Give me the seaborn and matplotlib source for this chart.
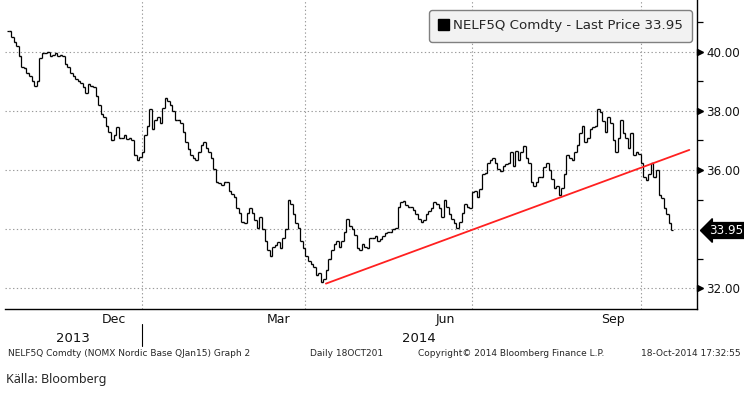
import numpy as np
import pandas as pd
import matplotlib
matplotlib.use('Agg')
import matplotlib.pyplot as plt
import matplotlib.transforms as mtransforms
from matplotlib.patches import Patch
import seaborn as sns

# --- daily last price NELF5Q Comdty ---
close = [
    40.7, 40.5, 40.35, 40.2, 39.85, 39.5, 39.45, 39.3, 39.2, 39.0, 38.85, 39.0, 39.8, 39.95, 39.95,
    40.0, 39.85, 39.9, 39.95, 39.85, 39.9, 39.85, 39.6, 39.5, 39.3, 39.2, 39.1, 39.0, 38.95,
    38.8, 38.6, 38.9, 38.85, 38.8, 38.5, 38.2, 37.9, 37.8, 37.5, 37.3, 37.0, 37.2, 37.45, 37.1,
    37.1, 37.2, 37.05, 37.1, 37.0, 36.5, 36.35, 36.45, 36.6, 37.2, 37.5, 38.05, 37.4, 37.7, 37.8,
    37.6, 38.1, 38.45, 38.35, 38.2, 38.0, 37.7, 37.7, 37.6, 37.3, 36.95, 36.7, 36.5, 36.4, 36.35,
    36.6, 36.85, 36.95, 36.75, 36.6, 36.4, 36.05, 35.6, 35.55, 35.5, 35.6, 35.6, 35.3, 35.2, 35.1,
    34.7, 34.55, 34.25, 34.2, 34.55, 34.7, 34.55, 34.3, 34.05, 34.4, 34.0, 33.6, 33.3, 33.1, 33.4,
    33.45, 33.55, 33.35, 33.7, 34.0, 35.0, 34.85, 34.5, 34.2, 34.05, 33.6, 33.35, 33.1, 32.9, 32.8,
    32.7, 32.45, 32.5, 32.2, 32.3, 32.6, 33.0, 33.3, 33.5, 33.6, 33.4, 33.6, 33.9, 34.35, 34.1,
    34.0, 33.8, 33.35, 33.3, 33.5, 33.4, 33.35, 33.7, 33.7, 33.75, 33.6, 33.65, 33.75, 33.85, 33.9,
    33.9, 34.0, 34.05,
    34.75, 34.9, 34.95, 34.8, 34.75, 34.75, 34.65, 34.5, 34.35, 34.25, 34.3, 34.5, 34.6, 34.7, 34.9,
    34.85, 34.7, 34.4, 35.0, 34.75, 34.5, 34.35, 34.2, 34.05, 34.25, 34.55, 34.85, 34.75, 34.7, 35.25,
    35.3, 35.1, 35.35, 35.85, 35.9, 36.25, 36.35, 36.4, 36.25, 36.05, 35.95, 36.15, 36.2, 36.25, 36.6,
    36.15, 36.65, 36.35, 36.6, 36.8, 36.4, 36.25, 35.6, 35.45, 35.6, 35.75, 35.75, 36.1, 36.25, 36.0,
    35.7, 35.4, 35.45, 35.15, 35.4, 35.85, 36.5, 36.4, 36.35, 36.6, 36.85, 37.25, 37.5, 36.95, 37.1,
    37.4, 37.45, 37.5, 38.05, 37.95, 37.65, 37.3, 37.8, 37.6, 37.0, 36.6, 37.1, 37.7, 37.25, 37.1,
    36.75, 37.25, 36.5, 36.6, 36.55, 36.25, 35.75, 35.65, 35.85, 36.25, 35.75, 36.0, 35.15, 35.05, 34.7,
    34.5, 34.2, 33.95,
]
last_day = '2014-10-17'
last_price = 33.95

# red trend line
trend_dates = ['2014-04-11', '2014-10-28']
trend_vals = [32.15, 36.68]

y_major = [32, 34, 36, 38, 40]
y_labels = ['32.00', '', '36.00', '38.00', '40.00']
y_minor = [33, 35, 37, 39, 41]
month_names = ['Dec', 'Mar', 'Jun', 'Sep']
month_label_start = ['2013-12-01', '2014-03-01', '2014-06-01', '2014-09-01']
grid_dates = ['2014-01-01', '2014-04-01', '2014-07-01', '2014-10-01']
years = ['2013', '2014']
year_break = '2014-01-01'

origin = np.datetime64('2013-10-18', 'D')


def pos(d):
    # trading-day position like the Bloomberg axis (no weekend gaps)
    d = np.array(pd.to_datetime(d).values, dtype='datetime64[D]')
    return np.busday_count(origin, d, weekmask='1111100')


sns.set_style('white')
plt.rcParams['font.family'] = ['DejaVu Sans']

fig = plt.figure(figsize=(7.44, 3.96), dpi=100)
ax = fig.add_axes([5 / 744, 87 / 396, 692 / 744, 309 / 396])

dates = pd.bdate_range(end=last_day, periods=len(close))
x = pos(dates).astype(float)
c = np.array(close)
o = np.r_[c[0], c[:-1]]

ax.vlines(x, np.minimum(o, c), np.maximum(o, c), color='black', lw=0.9)
ax.hlines(o, x - 0.8, x, color='black', lw=0.9)
ax.hlines(c, x, x + 0.8, color='black', lw=0.9)

sns.lineplot(x=pos(trend_dates).astype(float), y=trend_vals, color='#ff2020', lw=1.3, ax=ax)

xmin, xmax = -0.4, 270.0
ax.set_xlim(xmin, xmax)
ax.set_ylim(31.29, 41.76)

# grid
for v in y_major:
    ax.axhline(v, color='#9a9a9a', lw=0.8, ls=(0, (1.2, 2.2)), zorder=0)
for g in pos(grid_dates):
    ax.axvline(g, color='#9a9a9a', lw=0.8, ls=(0, (1.2, 2.2)), zorder=0)

# spines
for s in ['left', 'top']:
    ax.spines[s].set_visible(False)
ax.spines['right'].set_color('black')
ax.spines['bottom'].set_color('black')
ax.spines['right'].set_linewidth(1.0)
ax.spines['bottom'].set_linewidth(1.0)

# y axis on the right
ax.yaxis.tick_right()
ax.set_yticks(y_major)
ax.set_yticklabels(y_labels)
ax.set_yticks(y_minor, minor=True)
ax.tick_params(axis='y', which='major', length=0, pad=6.5, labelsize=8.6, labelcolor='#111111')
ax.tick_params(axis='y', which='minor', length=4, width=0.9, color='black', direction='out')
tri_tr = mtransforms.offset_copy(ax.get_yaxis_transform(), fig=fig, x=2.5, y=0, units='points')
tri_y = [v for v, lab in zip(y_major, y_labels) if lab]
ax.plot([1.0] * len(tri_y), tri_y, ls='none', marker='>', ms=4.2, color='black',
        transform=tri_tr, clip_on=False)

ax.annotate(f'{last_price:.2f}', xy=(1.0, last_price), xycoords=('axes fraction', 'data'),
            xytext=(8.5, 0), textcoords='offset points', va='center', ha='left',
            fontsize=8.6, color='white',
            bbox=dict(boxstyle='larrow,pad=0.12', fc='black', ec='black'))

# x axis: month ticks, labels in the middle of the quarter-end months
month_starts = pd.date_range('2013-11-01', '2014-10-01', freq='MS')
ax.set_xticks(pos(month_starts))
ax.set_xticklabels([''] * len(month_starts))
lab_pos = []
for m in month_label_start:
    a = pos([m])[0]
    b = pos([pd.Timestamp(m) + pd.offsets.MonthBegin(1)])[0]
    lab_pos.append((a + b) / 2)
ax.set_xticks(lab_pos, minor=True)
ax.set_xticklabels(month_names, minor=True)
ax.tick_params(axis='x', which='major', length=5, width=0.9, color='black', direction='out')
ax.tick_params(axis='x', which='minor', length=0, pad=3, labelsize=9, labelcolor='#111111')

yb = pos([year_break])[0]
ax.text((xmin + yb) / 2, -0.094, years[0], transform=ax.get_xaxis_transform(),
        ha='center', va='center', fontsize=9.5, color='#111111')
ax.text((yb + xmax) / 2, -0.094, years[1], transform=ax.get_xaxis_transform(),
        ha='center', va='center', fontsize=9.5, color='#111111')
ax.plot([yb, yb], [-0.05, -0.12], color='black', lw=0.8,
        transform=ax.get_xaxis_transform(), clip_on=False)

# legend box
leg = ax.legend([Patch(facecolor='black', edgecolor='black')],
                [f'NELF5Q Comdty - Last Price {last_price:.2f}'],
                loc='upper right', bbox_to_anchor=(0.993, 0.968), borderaxespad=0,
                fontsize=9.6, frameon=True, fancybox=True, handlelength=0.8, handleheight=0.8,
                handletextpad=0.3, borderpad=0.7)
leg.get_frame().set_facecolor('#f2f2f2')
leg.get_frame().set_edgecolor('#808080')
leg.get_frame().set_alpha(1)

# footer
fy = 1 - 354 / 396
fig.text(8 / 744, fy, 'NELF5Q Comdty (NOMX Nordic Base QJan15) Graph 2', fontsize=6.5, va='center')
fig.text(310 / 744, fy, 'Daily 18OCT201', fontsize=6.5, va='center')
fig.text(418 / 744, fy, 'Copyright\u00a9 2014 Bloomberg Finance L.P.', fontsize=6.5, va='center')
fig.text(741 / 744, fy, '18-Oct-2014 17:32:55', fontsize=6.5, va='center', ha='right')
fig.text(6 / 744, 1 - 380 / 396, 'Källa: Bloomberg', fontsize=9, va='center', family='Noto Sans')

fig.savefig('out.png', dpi=100)
